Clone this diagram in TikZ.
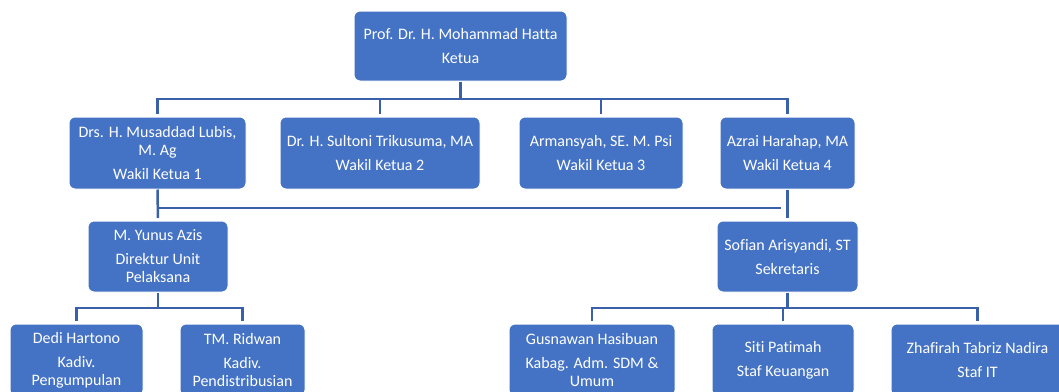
\documentclass[tikz,border=0pt]{standalone}
\usepackage{fontspec}
\setmainfont{Carlito}[Ligatures=NoCommon]
\usepackage{tikz}
\usetikzlibrary{positioning, calc}
\definecolor{kotakbiru}{RGB}{68,114,196}
\definecolor{garisbiru}{RGB}{58,96,170}

\begin{document}
\begin{tikzpicture}[x=1pt,y=-1pt,
    kotak/.style={rectangle,draw=white,line width=1pt,fill=kotakbiru,rounded corners=6pt,minimum height=72pt,inner sep=2pt,align=center,text=white,font=\fontsize{16}{18}\selectfont},
    garis/.style={draw=garisbiru,line width=2.5pt}]
    \path[use as bounding box,clip] (0,0) rectangle (1059,391);

    % Ketua
    \node[kotak,minimum width=213pt,minimum height=70pt] (ketua) at (460.5,46) {Prof. Dr. H. Mohammad Hatta\\[6pt]Ketua};

    % Wakil ketua
    \node[kotak,minimum width=177pt] (wakil1) at (157.5,153) {Drs. H. Musaddad Lubis,\\M. Ag\\[6pt]Wakil Ketua 1};
    \node[kotak,minimum width=200pt] (wakil2) at (380,153) {Dr. H. Sultoni Trikusuma, MA\\[6pt]Wakil Ketua 2};
    \node[kotak,minimum width=164pt] (wakil3) at (601,153) {Armansyah, SE. M. Psi\\[6pt]Wakil Ketua 3};
    \node[kotak,minimum width=135pt] (wakil4) at (787.5,153) {Azrai Harahap, MA\\[6pt]Wakil Ketua 4};

    % Direktur dan sekretaris
    \node[kotak,minimum width=140pt,minimum height=71pt] (yunus) at (158,256.5) {M. Yunus Azis\\[6pt]Direktur Unit\\Pelaksana};
    \node[kotak,minimum width=141pt,minimum height=71pt] (sofian) at (787.5,256.5) {Sofian Arisyandi, ST\\[6pt]Sekretaris};

    % Kadiv dan staf
    \node[kotak,minimum width=133pt] (dedi) at (76.5,360) {Dedi Hartono\\[6pt]Kadiv.\\Pengumpulan};
    \node[kotak,minimum width=125pt] (ridwan) at (242.5,360) {TM. Ridwan\\[6pt]Kadiv.\\Pendistribusian};
    \node[kotak,minimum width=166pt] (gusnawan) at (592,360) {Gusnawan Hasibuan\\[6pt]Kabag. Adm. SDM \&\\Umum};
    \node[kotak,minimum width=142pt] (siti) at (783,360) {Siti Patimah\\[6pt]Staf Keuangan};
    \node[kotak,minimum width=173pt] (zhafirah) at (977.5,360) {Zhafirah Tabriz Nadira\\[6pt]Staf IT};

    % Garis penghubung
    \coordinate (busa) at (0,99);
    \coordinate (busb) at (0,208);
    \coordinate (busc) at (0,308);

    \draw[garis] (ketua.south) -- (ketua.south |- busa);
    \draw[garis,shorten <=2.5pt,shorten >=2.5pt] (wakil1.north) -- (wakil1.north |- busa) -- (wakil4.north |- busa) -- (wakil4.north);
    \foreach \w in {wakil2,wakil3}
        \draw[garis,shorten >=2.5pt] (\w.north |- busa) -- (\w.north);

    \draw[garis,shorten >=2.5pt] (wakil1.south) -- (yunus.north);
    \draw[garis,shorten >=2.5pt] (wakil4.south) -- (sofian.north);
    \draw[garis,shorten >=7pt] (wakil1.south |- busb) -- (sofian.north |- busb);

    \draw[garis] (yunus.south) -- (yunus.south |- busc);
    \draw[garis,shorten <=2.5pt,shorten >=2.5pt] (dedi.north) -- (dedi.north |- busc) -- (ridwan.north |- busc) -- (ridwan.north);

    \draw[garis] (sofian.south) -- (sofian.south |- busc);
    \draw[garis,shorten <=2.5pt,shorten >=2.5pt] (gusnawan.north) -- (gusnawan.north |- busc) -- (zhafirah.north |- busc) -- (zhafirah.north);
    \draw[garis,shorten >=2.5pt] (siti.north |- busc) -- (siti.north);
\end{tikzpicture}
\end{document}
